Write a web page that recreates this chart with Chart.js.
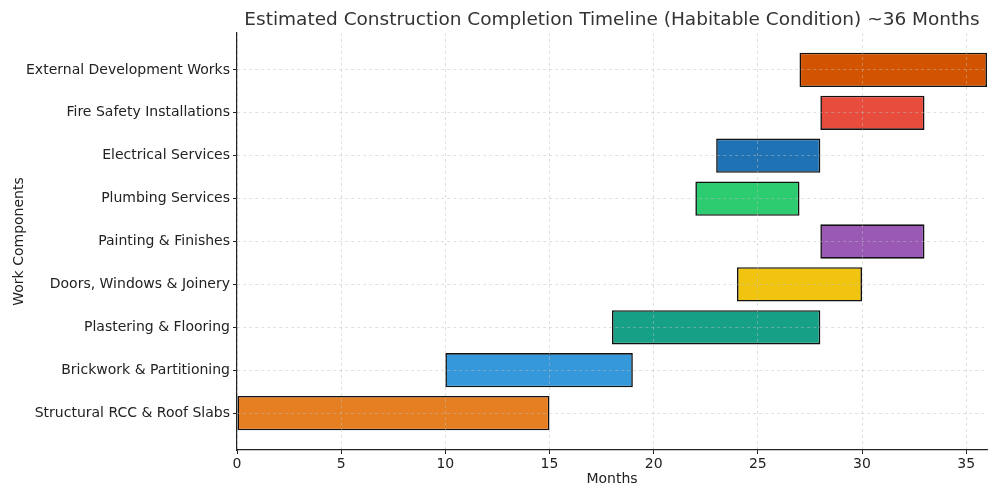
<!DOCTYPE html>
<html>
<head>
<meta charset="utf-8">
<script src="https://cdn.jsdelivr.net/npm/chart.js@4"></script>
<style>
  html, body { margin: 0; padding: 0; background: #fff; }
  #wrap { width: 1000px; height: 500px; }
</style>
</head>
<body>
<div id="wrap"><canvas id="grafico"></canvas></div>
<script>
// work components, bottom to top
var tareas = [
    'Structural RCC & Roof Slabs',
    'Brickwork & Partitioning',
    'Plastering & Flooring',
    'Doors, Windows & Joinery',
    'Painting & Finishes',
    'Plumbing Services',
    'Electrical Services',
    'Fire Safety Installations',
    'External Development Works'
];
var inicio = [0, 10, 18, 24, 28, 22, 23, 28, 27];
var fin = [15, 19, 28, 30, 33, 27, 28, 33, 36];
var colores = ['#e67e22', '#3498db', '#16a085', '#f1c40f', '#9b59b6', '#2ecc71', '#1f72b4', '#e74c3c', '#d35400'];
var mesesTicks = [0, 5, 10, 15, 20, 25, 30, 35];

var titulo = 'Estimated Construction Completion Timeline (Habitable Condition) ~36 Months';
var fuente = 'DejaVu Sans';

var datos = tareas.map(function (t, i) {
    return { x: [inicio[i], fin[i]], y: i };
});

// title centred over the plot area
var tituloPlugin = {
    id: 'tituloArea',
    afterDraw: function (chart) {
        var ctx = chart.ctx;
        var area = chart.chartArea;
        ctx.save();
        ctx.font = '18.5px "' + fuente + '"';
        ctx.fillStyle = '#333';
        ctx.textAlign = 'center';
        ctx.textBaseline = 'middle';
        ctx.fillText(titulo, (area.left + area.right) / 2, 20);
        ctx.restore();
    }
};

var gridColor = 'rgba(190, 190, 190, 0.6)';

var chart = new Chart(document.getElementById('grafico').getContext('2d'), {
    type: 'bar',
    data: {
        datasets: [{
            data: datos,
            backgroundColor: colores,
            borderColor: '#111',
            borderWidth: 1.6,
            borderSkipped: false,
            categoryPercentage: 1,
            barPercentage: 0.8
        }]
    },
    plugins: [tituloPlugin],
    options: {
        indexAxis: 'y',
        responsive: true,
        maintainAspectRatio: false,
        animation: false,
        layout: { padding: { top: 33, right: 13, left: 11, bottom: 12 } },
        plugins: {
            legend: { display: false },
            tooltip: { enabled: false }
        },
        scales: {
            x: {
                type: 'linear',
                min: 0,
                max: 36,
                afterBuildTicks: function (scale) {
                    scale.ticks = mesesTicks.map(function (v) { return { value: v }; });
                },
                afterFit: function (scale) { scale.height = 38; },
                title: {
                    display: true,
                    text: 'Months',
                    color: '#222',
                    font: { family: fuente, size: 14 },
                    padding: { top: 0, bottom: 0 }
                },
                ticks: {
                    color: '#222',
                    font: { family: fuente, size: 14 },
                    padding: 2,
                    maxRotation: 0
                },
                grid: {
                    z: 1,
                    color: gridColor,
                    lineWidth: 0.8,
                    tickLength: 4,
                    tickColor: '#222',
                    tickBorderDash: [],
                    tickWidth: 1
                },
                border: { display: true, z: 2, color: '#222', width: 1.2, dash: [3, 3] }
            },
            y: {
                type: 'linear',
                min: -0.86,
                max: 8.86,
                offset: false,
                afterBuildTicks: function (scale) {
                    scale.ticks = tareas.map(function (t, i) { return { value: i }; });
                },
                afterFit: function (scale) { scale.width = 226; },
                title: {
                    display: true,
                    text: 'Work Components',
                    color: '#222',
                    font: { family: fuente, size: 14 },
                    padding: { top: 0, bottom: 0 }
                },
                ticks: {
                    color: '#222',
                    font: { family: fuente, size: 14 },
                    padding: 3,
                    callback: function (v) { return tareas[v]; }
                },
                grid: {
                    z: 1,
                    offset: false,
                    color: gridColor,
                    lineWidth: 0.8,
                    tickLength: 4,
                    tickColor: '#222',
                    tickBorderDash: [],
                    tickWidth: 1
                },
                border: { display: true, z: 2, color: '#222', width: 1.2, dash: [3, 3] }
            }
        }
    }
});
</script>
</body>
</html>
